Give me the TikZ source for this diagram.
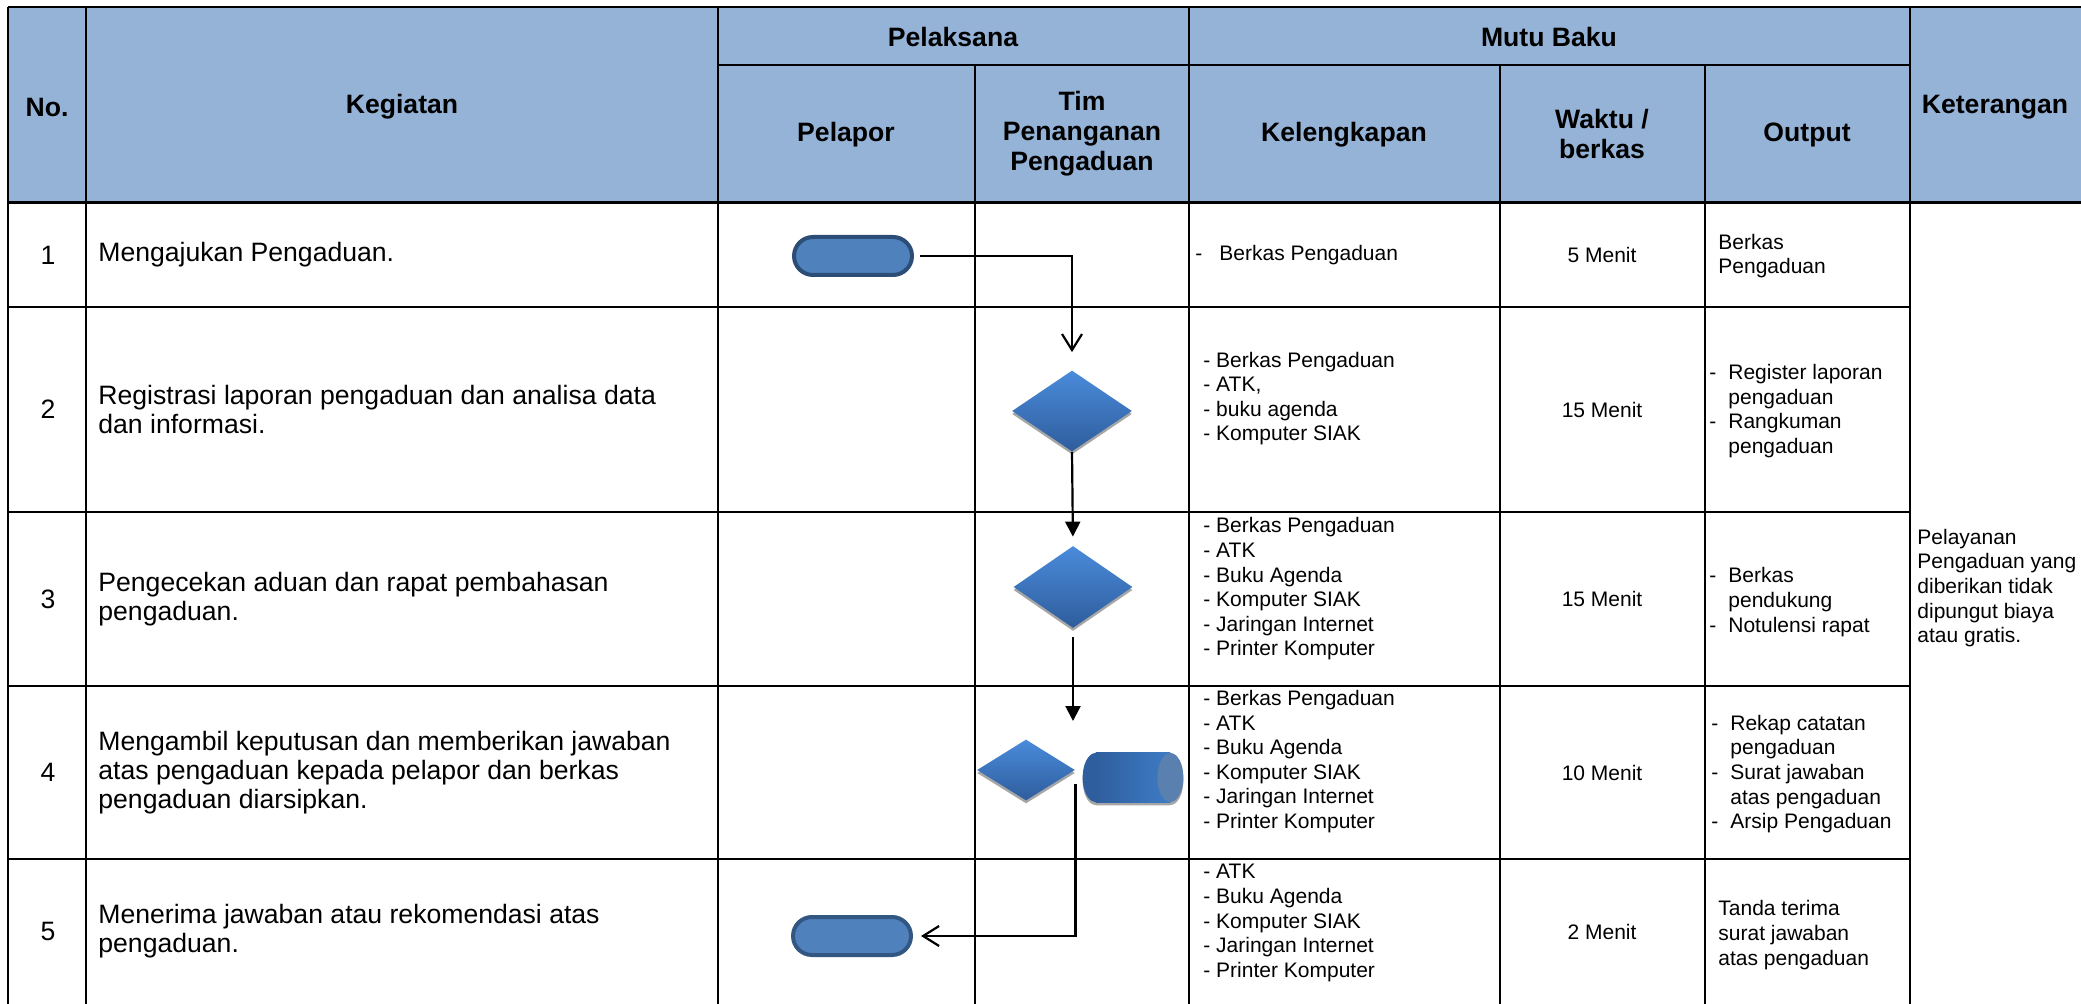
\documentclass[tikz,border=0pt]{standalone}
\usepackage{fontspec}
\setmainfont{Liberation Sans}
\usepackage{xcolor}
\usepackage{tikz}
\usetikzlibrary{arrows.meta,positioning,calc,shapes.geometric,shadows}

\definecolor{headblue}{HTML}{95B3D7}
\definecolor{termfill}{HTML}{4F81BD}
\definecolor{termline}{HTML}{2C4D75}
\definecolor{dtop}{HTML}{4A8BDB}
\definecolor{dbot}{HTML}{2E5D9C}
\definecolor{cyldark}{HTML}{2F5E9E}
\definecolor{cyllight}{HTML}{3E7CC4}
\definecolor{cylend}{HTML}{5A80B0}

\newcommand{\itemdash}{\makebox[9.5pt][l]{-}}
\newcommand{\itemhang}{\hspace*{9.5pt}}

\begin{document}
\begin{tikzpicture}[x=0.5pt,y=-0.5pt,
  grid/.style={line width=1pt},
  headtext/.style={font=\fontsize{13.3}{15}\selectfont\bfseries,align=center},
  bodytext/.style={font=\fontsize{13.3}{14.6}\selectfont,align=left,anchor=west,inner sep=0pt},
  smalltext/.style={font=\fontsize{10.5}{12.3}\selectfont,align=left,anchor=west,inner sep=0pt},
  terminal/.style={rectangle,rounded corners=9.5pt,draw=termline,line width=2pt,fill=termfill,
    minimum width=59pt,minimum height=19pt,inner sep=0pt},
  decision/.style={diamond,top color=dtop,bottom color=dbot,inner sep=0pt,
    drop shadow={shadow xshift=0pt,shadow yshift=-1.5pt,fill=black!35,opacity=1}},
  capend/.style={x radius=6.5pt,y radius=12.25pt},
  openarrow/.style={line width=1.1pt,-{Straight Barb[length=8pt,width=10pt]}},
  solidarrow/.style={line width=1.1pt,-{Triangle[length=7.5pt,width=7.5pt]}}]
  \useasboundingbox (0,0) rectangle (2081,1004);

  \fill[headblue] (8,7) rectangle (2081,203);
  \draw[grid] (8,7) -- (2081,7);
  \draw[grid] (718,65) -- (1910,65);
  \foreach \y in {307,512,686,859}
    \draw[grid] (8,\y) -- (1910,\y);
  \foreach \x in {8,86,718,1189,1910}
    \draw[grid] (\x,7) -- (\x,1004);
  \foreach \x in {975,1500,1705}
    \draw[grid] (\x,65) -- (\x,1004);
  \draw[line width=1.5pt] (8,203) -- (2081,203);

  \node[headtext] (hno) at (47,107) {No.};
  \node[headtext] (hkeg) at (402,107) {Kegiatan};
  \node[headtext] (hpel) at (953,37) {Pelaksana};
  \node[headtext] (hmutu) at (1549,37) {Mutu Baku};
  \node[headtext] (hket) at (1995,107) {Keterangan};
  \node[headtext] (hlapor) at (846,135) {Pelapor};
  \node[headtext] (htim) at (1082,134) {Tim\\Penanganan\\Pengaduan};
  \node[headtext] (hkel) at (1344,135) {Kelengkapan};
  \node[headtext] (hwaktu) at (1602,134) {Waktu /\\berkas};
  \node[headtext] (hout) at (1807,135) {Output};

  \foreach \n/\y/\t in {1/255/5,2/409.5/15,3/599/15,4/772.5/10,5/931.5/2} {
    \node[font=\fontsize{13.3}{14.6}\selectfont] (no\n) at (48,\y) {\n};
    \node[smalltext,anchor=center] (wk\n) at (1602,\y) {\t{} Menit};
  }

  \node[bodytext] (keg1) at (98,255) {Mengajukan Pengaduan.};
  \node[bodytext] (keg2) at (98,409.5) {Registrasi laporan pengaduan dan analisa data\\dan informasi.};
  \node[bodytext] (keg3) at (98,599) {Pengecekan aduan dan rapat pembahasan\\pengaduan.};
  \node[bodytext] (keg4) at (98,772.5) {Mengambil keputusan dan memberikan jawaban\\atas pengaduan kepada pelapor dan berkas\\pengaduan diarsipkan.};
  \node[bodytext] (keg5) at (98,931.5) {Menerima jawaban atau rekomendasi atas\\pengaduan.};

  \node[smalltext] (kel1) at (1195,255) {-\hspace{8.5pt}Berkas Pengaduan};
  \node[smalltext] (kel2) at (1203,398.5) {- Berkas Pengaduan\\- ATK,\\- buku agenda\\- Komputer SIAK};
  \node[smalltext] (kel3) at (1203,589) {- Berkas Pengaduan\\- ATK\\- Buku Agenda\\- Komputer SIAK\\- Jaringan Internet\\- Printer Komputer};
  \node[smalltext] (kel4) at (1203,761.5) {- Berkas Pengaduan\\- ATK\\- Buku Agenda\\- Komputer SIAK\\- Jaringan Internet\\- Printer Komputer};
  \node[smalltext] (kel5) at (1203,923) {- ATK\\- Buku Agenda\\- Komputer SIAK\\- Jaringan Internet\\- Printer Komputer};

  \node[smalltext] (out1) at (1718,256) {Berkas\\Pengaduan};
  \node[smalltext] (out2) at (1709,411) {\itemdash Register laporan\\\itemhang pengaduan\\\itemdash Rangkuman\\\itemhang pengaduan};
  \node[smalltext] (out3) at (1709,602) {\itemdash Berkas\\\itemhang pendukung\\\itemdash Notulensi rapat};
  \node[smalltext] (out4) at (1711,774) {\itemdash Rekap catatan\\\itemhang pengaduan\\\itemdash Surat jawaban\\\itemhang atas pengaduan\\\itemdash Arsip Pengaduan};
  \node[smalltext] (out5) at (1718,935) {Tanda terima\\surat jawaban\\atas pengaduan};

  \node[smalltext] (ket) at (1917,588) {Pelayanan\\Pengaduan yang\\diberikan tidak\\dipungut biaya\\atau gratis.};

  \node[terminal] (t1) at (853,256) {};
  \node[decision,minimum width=60pt,minimum height=40.5pt] (d1) at (1072,411) {};
  \node[decision,minimum width=59.5pt,minimum height=41pt] (d2) at (1073,587) {};
  \node[decision,minimum width=49pt,minimum height=30.5pt] (d3) at (1026,770) {};
  \node[terminal,draw=termline!80!termfill] (t2) at (852,936) {};
  \node[inner sep=0pt,minimum width=37pt,minimum height=24.5pt] (arc) at (1133,777.5) {};
  \coordinate (j1) at (1076,721);

  \fill[black!35] ([yshift=-1.5pt]arc.west) ellipse[capend]
    ([yshift=-1.5pt]arc.north west) rectangle ([yshift=-1.5pt]arc.south east)
    ([yshift=-1.5pt]arc.east) ellipse[capend];
  \fill[cyldark] (arc.west) ellipse[capend];
  \shade[left color=cyldark,right color=cyllight] (arc.north west) rectangle (arc.south east);
  \fill[cylend] (arc.east) ellipse[capend];

  \draw[openarrow,shorten <=3pt,shorten >=9pt] (t1.east) -| (d1.north);
  \draw[solidarrow,shorten >=4.5pt] (d1.south) -- (d2.north);
  \draw[solidarrow,shorten <=4.5pt] (d2.south) -- (d2.south |- j1);
  \draw[openarrow,shorten >=4pt] ([yshift=-7pt]d3.east) |- (t2.east);
\end{tikzpicture}
\end{document}
